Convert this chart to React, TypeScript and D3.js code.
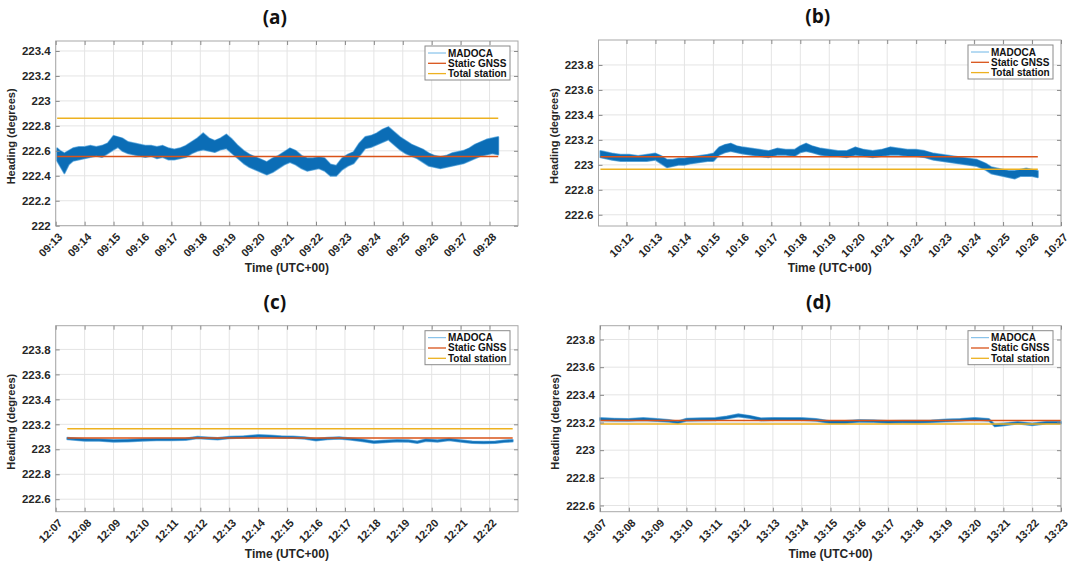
import React, { useEffect, useRef } from "react";
import * as d3 from "d3";

// panel setup: hour of the run, visible minute window, heading limits
const panelLabels = ["(a)", "(b)", "(c)", "(d)"];
const panelHours = [9, 10, 12, 13];
const xStartMin = [13, 11.03, 7, 7];
const xEndMin = [28.98, 27, 22.98, 23];
const yMin = [222, 222.51, 222.5, 222.555];
const yMax = [223.48, 224, 223.99, 223.9];
const yTickStart = [222, 222.6, 222.6, 222.6];
const yTickEnd = [223.4, 223.8, 223.8, 223.8];

// reference headings (degrees)
const staticGnss = [222.555, 223.065, 223.09, 223.215];
const totalStation = [222.86, 222.965, 223.165, 223.19];

// MADOCA heading band, minutes past the hour, low / high envelope
const madocaTimeA = [13.05, 13.15, 13.3, 13.45, 13.6, 13.8, 14.0, 14.2, 14.4, 14.6, 14.8, 15.0, 15.15, 15.3, 15.5, 15.7, 15.9, 16.1, 16.3, 16.5, 16.7, 16.9, 17.1, 17.3, 17.5, 17.7, 17.9, 18.1, 18.3, 18.5, 18.7, 18.9, 19.1, 19.3, 19.5, 19.7, 19.9, 20.1, 20.3, 20.5, 20.7, 20.9, 21.1, 21.3, 21.5, 21.7, 21.9, 22.1, 22.3, 22.5, 22.7, 22.9, 23.1, 23.3, 23.5, 23.7, 23.9, 24.1, 24.3, 24.5, 24.7, 24.9, 25.1, 25.3, 25.5, 25.7, 25.9, 26.1, 26.3, 26.5, 26.7, 26.9, 27.1, 27.3, 27.5, 27.7, 27.9, 28.1, 28.3];
const madocaLowA = [222.52, 222.48, 222.42, 222.49, 222.52, 222.53, 222.54, 222.55, 222.56, 222.55, 222.58, 222.61, 222.63, 222.6, 222.58, 222.57, 222.56, 222.55, 222.56, 222.54, 222.55, 222.53, 222.53, 222.54, 222.55, 222.58, 222.6, 222.61, 222.6, 222.59, 222.61, 222.62, 222.58, 222.54, 222.5, 222.47, 222.45, 222.43, 222.41, 222.43, 222.46, 222.49, 222.51, 222.49, 222.46, 222.44, 222.45, 222.46, 222.44, 222.4, 222.4, 222.45, 222.48, 222.5, 222.56, 222.62, 222.63, 222.65, 222.67, 222.69, 222.65, 222.61, 222.58, 222.56, 222.54, 222.51, 222.48, 222.47, 222.46, 222.47, 222.48, 222.49, 222.5, 222.52, 222.54, 222.56, 222.57, 222.58, 222.57];
const madocaHighA = [222.62, 222.6, 222.58, 222.6, 222.62, 222.63, 222.63, 222.64, 222.63, 222.64, 222.66, 222.72, 222.71, 222.7, 222.67, 222.66, 222.65, 222.64, 222.64, 222.63, 222.64, 222.62, 222.61, 222.62, 222.64, 222.67, 222.7, 222.74, 222.7, 222.68, 222.7, 222.73, 222.69, 222.64, 222.6, 222.57, 222.55, 222.53, 222.51, 222.54, 222.56, 222.59, 222.62, 222.6, 222.56, 222.54, 222.54, 222.55, 222.54, 222.49, 222.48, 222.54, 222.57, 222.59, 222.66, 222.71, 222.72, 222.74, 222.77, 222.79, 222.75, 222.71, 222.68, 222.65, 222.63, 222.61, 222.58, 222.56, 222.55, 222.56, 222.58, 222.59, 222.6, 222.62, 222.65, 222.67, 222.69, 222.7, 222.71];

const madocaTimeB = [11.1, 11.3, 11.5, 11.8, 12.1, 12.4, 12.7, 13.0, 13.2, 13.4, 13.6, 13.8, 14.0, 14.2, 14.5, 14.8, 15.0, 15.2, 15.4, 15.6, 15.8, 16.0, 16.3, 16.6, 16.9, 17.2, 17.5, 17.8, 18.0, 18.2, 18.4, 18.7, 19.0, 19.3, 19.6, 19.9, 20.2, 20.5, 20.8, 21.1, 21.4, 21.7, 22.0, 22.3, 22.6, 22.9, 23.2, 23.5, 23.8, 24.1, 24.4, 24.6, 24.8, 25.0, 25.2, 25.4, 25.6, 25.8, 26.0, 26.2];
const madocaLowB = [223.06, 223.05, 223.04, 223.03, 223.03, 223.03, 223.03, 223.04, 223.01, 222.98, 222.99, 223.0, 223.0, 223.01, 223.02, 223.03, 223.03, 223.08, 223.1, 223.11, 223.1, 223.09, 223.08, 223.07, 223.06, 223.08, 223.08, 223.07, 223.1, 223.11, 223.1, 223.08, 223.07, 223.07, 223.06, 223.08, 223.07, 223.06, 223.07, 223.08, 223.08, 223.07, 223.07, 223.06, 223.04, 223.03, 223.02, 223.01, 223.0, 222.99, 222.96, 222.93, 222.92, 222.91, 222.9, 222.89, 222.91, 222.91, 222.91, 222.9];
const madocaHighB = [223.11, 223.1, 223.09, 223.08, 223.08, 223.07, 223.08, 223.09, 223.07, 223.04, 223.04, 223.05, 223.05, 223.06, 223.07, 223.08, 223.09, 223.14, 223.16, 223.17, 223.15, 223.14, 223.13, 223.12, 223.11, 223.13, 223.12, 223.12, 223.15, 223.17, 223.15, 223.13, 223.12, 223.11, 223.11, 223.14, 223.12, 223.11, 223.12, 223.14, 223.13, 223.12, 223.12, 223.11, 223.09, 223.08, 223.07, 223.06, 223.05, 223.04, 223.01, 222.98, 222.97, 222.96, 222.95, 222.95, 222.96, 222.97, 222.96, 222.95];

const madocaTimeC = [7.4, 8.0, 8.5, 9.0, 9.5, 10.0, 10.5, 11.0, 11.5, 11.9, 12.3, 12.6, 13.0, 13.5, 14.0, 14.4, 14.8, 15.2, 15.6, 16.0, 16.4, 16.8, 17.2, 17.6, 18.0, 18.4, 18.8, 19.2, 19.5, 19.8, 20.2, 20.6, 21.0, 21.4, 21.8, 22.2, 22.5, 22.8];
const madocaLowC = [223.08, 223.068, 223.068, 223.06, 223.063, 223.068, 223.072, 223.072, 223.075, 223.088, 223.082, 223.078, 223.088, 223.092, 223.1, 223.098, 223.092, 223.09, 223.085, 223.07, 223.08, 223.085, 223.076, 223.065, 223.05, 223.056, 223.062, 223.06, 223.05, 223.066, 223.06, 223.072, 223.06, 223.05, 223.048, 223.05, 223.058, 223.062];
const madocaHighC = [223.093, 223.082, 223.08, 223.074, 223.076, 223.082, 223.084, 223.085, 223.087, 223.1, 223.094, 223.09, 223.1, 223.104, 223.114, 223.11, 223.104, 223.102, 223.097, 223.084, 223.092, 223.097, 223.088, 223.078, 223.064, 223.07, 223.075, 223.073, 223.063, 223.08, 223.073, 223.085, 223.073, 223.063, 223.06, 223.063, 223.071, 223.075];

const madocaTimeD = [7.0, 7.5, 8.0, 8.5, 9.0, 9.4, 9.7, 10.0, 10.5, 11.0, 11.4, 11.8, 12.2, 12.6, 13.0, 13.5, 14.0, 14.5, 15.0, 15.5, 16.0, 16.5, 17.0, 17.5, 18.0, 18.5, 19.0, 19.5, 20.0, 20.5, 20.7, 21.0, 21.5, 22.0, 22.5, 23.0];
const madocaLowD = [223.215, 223.213, 223.212, 223.216, 223.21, 223.205, 223.195, 223.212, 223.215, 223.216, 223.228, 223.243, 223.232, 223.215, 223.218, 223.218, 223.218, 223.212, 223.195, 223.195, 223.205, 223.203, 223.197, 223.2, 223.198, 223.202, 223.208, 223.212, 223.218, 223.212, 223.172, 223.178, 223.192, 223.18, 223.192, 223.192];
const madocaHighD = [223.232, 223.228, 223.226, 223.232, 223.225, 223.218, 223.208, 223.228, 223.23, 223.232, 223.244, 223.26, 223.248, 223.23, 223.233, 223.232, 223.232, 223.226, 223.21, 223.21, 223.218, 223.216, 223.21, 223.213, 223.212, 223.215, 223.222, 223.225, 223.233, 223.226, 223.186, 223.192, 223.204, 223.193, 223.205, 223.205];

const madocaTimes = [madocaTimeA, madocaTimeB, madocaTimeC, madocaTimeD];
const madocaLows = [madocaLowA, madocaLowB, madocaLowC, madocaLowD];
const madocaHighs = [madocaHighA, madocaHighB, madocaHighC, madocaHighD];

const legendNames = ["MADOCA", "Static GNSS", "Total station"];
const legendColors = ["#6fb6e6", "#D95319", "#EDB120"];

// plot boxes in page pixels
const frames = [
  { l: 55.7, r: 518, t: 41, b: 225.7 },
  { l: 598.5, r: 1061, t: 40, b: 226 },
  { l: 55.7, r: 518, t: 325.7, b: 511.7 },
  { l: 600, r: 1061, t: 325.7, b: 511.7 },
];

const FONT = "'Liberation Sans', Arial, sans-serif";
const TEXT = "#262626";

function drawPanel(svg: any, i: number) {
  const f = frames[i];
  const hour = panelHours[i];
  const toDate = (m: number) => new Date(2020, 0, 1, hour, 0, Math.round(m * 60));

  const x = d3.scaleTime().domain([toDate(xStartMin[i]), toDate(xEndMin[i])]).range([f.l, f.r]);
  const y = d3.scaleLinear().domain([yMin[i], yMax[i]]).range([f.b, f.t]);

  const yTicks = d3.range(Math.round((yTickEnd[i] - yTickStart[i]) / 0.2) + 1).map(k => +(yTickStart[i] + k * 0.2).toFixed(1));
  const xTicks = x.ticks(d3.timeMinute.every(1));

  const g = svg.append("g");

  // grid
  g.append("g").selectAll("line.gy").data(yTicks).enter().append("line")
    .attr("x1", f.l).attr("x2", f.r).attr("y1", d => y(d)).attr("y2", d => y(d))
    .attr("stroke", "#e4e4e4").attr("stroke-width", 1);
  g.append("g").selectAll("line.gx").data(xTicks).enter().append("line")
    .attr("x1", d => x(d)).attr("x2", d => x(d)).attr("y1", f.t).attr("y2", f.b)
    .attr("stroke", "#e4e4e4").attr("stroke-width", 1);

  // MADOCA band: light fringe underneath, dense core on top
  const times = madocaTimes[i];
  const band = times.map((t, k) => ({ t: toDate(t), lo: madocaLows[i][k], hi: madocaHighs[i][k] }));
  const area = d3.area<any>().x(d => x(d.t)).y0(d => y(d.lo)).y1(d => y(d.hi));
  g.append("path").attr("d", area(band))
    .attr("fill", "#4d9fdb").attr("stroke", "#7dbce8").attr("stroke-width", 2)
    .attr("stroke-linejoin", "round");
  g.append("path").attr("d", area(band))
    .attr("fill", "#0b6db6").attr("stroke", "#0b6db6").attr("stroke-width", 0.6)
    .attr("stroke-linejoin", "round");

  // reference lines
  const t0 = toDate(times[0]);
  const t1 = toDate(times[times.length - 1]);
  const line = d3.line<any>().x(d => x(d[0])).y(d => y(d[1]));
  g.append("path").attr("d", line([[t0, staticGnss[i]], [t1, staticGnss[i]]]))
    .attr("stroke", "#D95319").attr("stroke-width", 1.5).attr("fill", "none");
  g.append("path").attr("d", line([[t0, totalStation[i]], [t1, totalStation[i]]]))
    .attr("stroke", "#EDB120").attr("stroke-width", 1.5).attr("fill", "none");

  // box
  g.append("rect").attr("x", f.l).attr("y", f.t).attr("width", f.r - f.l).attr("height", f.b - f.t)
    .attr("fill", "none").attr("stroke", "#a8a8a8").attr("stroke-width", 1);

  // axes with inward ticks
  const yAxis = d3.axisLeft(y).tickValues(yTicks).tickSizeInner(-4).tickSizeOuter(0).tickPadding(5)
    .tickFormat(d => String(d));
  const ya = g.append("g").attr("transform", `translate(${f.l},0)`).call(yAxis);
  ya.select(".domain").remove();
  ya.selectAll("line").attr("stroke", "#8a8a8a");
  ya.selectAll("text").attr("fill", TEXT).style("font-family", FONT).style("font-size", "11.5px").style("font-weight", "bold");

  const yr = g.append("g").attr("transform", `translate(${f.r},0)`)
    .call(d3.axisRight(y).tickValues(yTicks).tickSizeInner(-4).tickSizeOuter(0).tickFormat(() => ""));
  yr.select(".domain").remove();
  yr.selectAll("line").attr("stroke", "#8a8a8a");

  const xa = g.append("g").attr("transform", `translate(0,${f.b})`)
    .call(d3.axisBottom(x).tickValues(xTicks).tickSizeInner(-4).tickSizeOuter(0).tickFormat(d3.timeFormat("%H:%M") as any));
  xa.select(".domain").remove();
  xa.selectAll("line").attr("stroke", "#8a8a8a");
  xa.selectAll("text")
    .attr("x", 0).attr("y", 0).attr("dy", 0)
    .attr("transform", "translate(7,12) rotate(-45)")
    .style("text-anchor", "end")
    .attr("fill", TEXT).style("font-family", FONT).style("font-size", "11px").style("font-weight", "bold");

  const xt = g.append("g").attr("transform", `translate(0,${f.t})`)
    .call(d3.axisTop(x).tickValues(xTicks).tickSizeInner(-4).tickSizeOuter(0).tickFormat(() => ""));
  xt.select(".domain").remove();
  xt.selectAll("line").attr("stroke", "#8a8a8a");

  // labels
  g.append("text").attr("x", (f.l + f.r) / 2).attr("y", f.b + 46)
    .attr("text-anchor", "middle").attr("fill", TEXT)
    .style("font-family", FONT).style("font-size", "12px").style("font-weight", "bold")
    .text("Time (UTC+00)");
  g.append("text").attr("transform", `translate(${f.l - 41},${(f.t + f.b) / 2 + 3}) rotate(-90)`)
    .attr("text-anchor", "middle").attr("fill", TEXT)
    .style("font-family", FONT).style("font-size", "11px").style("font-weight", "bold")
    .text("Heading (degrees)");
  g.append("text").attr("x", (f.l + f.r) / 2 - 12).attr("y", f.t - 17)
    .attr("text-anchor", "middle").attr("fill", "#111")
    .style("font-family", "'Open Sans', sans-serif").style("font-size", "19px").style("font-weight", "bold")
    .text(panelLabels[i]);

  // legend
  const lw = 85, lh = 34;
  const lx = f.r - 8 - lw, ly = f.t + 5;
  const leg = g.append("g").attr("transform", `translate(${lx},${ly})`);
  leg.append("rect").attr("width", lw).attr("height", lh).attr("fill", "#fff").attr("stroke", "#8a8a8a").attr("stroke-width", 1);
  legendNames.forEach((name, k) => {
    const ry = 7 + k * 10.3;
    leg.append("line").attr("x1", 3).attr("x2", 21).attr("y1", ry).attr("y2", ry)
      .attr("stroke", legendColors[k]).attr("stroke-width", k === 0 ? 1 : 1.3);
    leg.append("text").attr("x", 23).attr("y", ry + 3.5).attr("fill", "#111")
      .style("font-family", FONT).style("font-size", "10px").style("font-weight", "bold")
      .text(name);
  });
}

export default function App() {
  const ref = useRef<SVGSVGElement>(null);

  useEffect(() => {
    const svg = d3.select(ref.current);
    svg.selectAll("*").remove();
    svg.append("rect").attr("width", 1074).attr("height", 561).attr("fill", "#fff");
    panelLabels.forEach((_, i) => drawPanel(svg, i));
  }, []);

  return (
    <svg ref={ref} width={1074} height={561}
      style={{ position: "absolute", left: 0, top: 0, display: "block" }} />
  );
}
